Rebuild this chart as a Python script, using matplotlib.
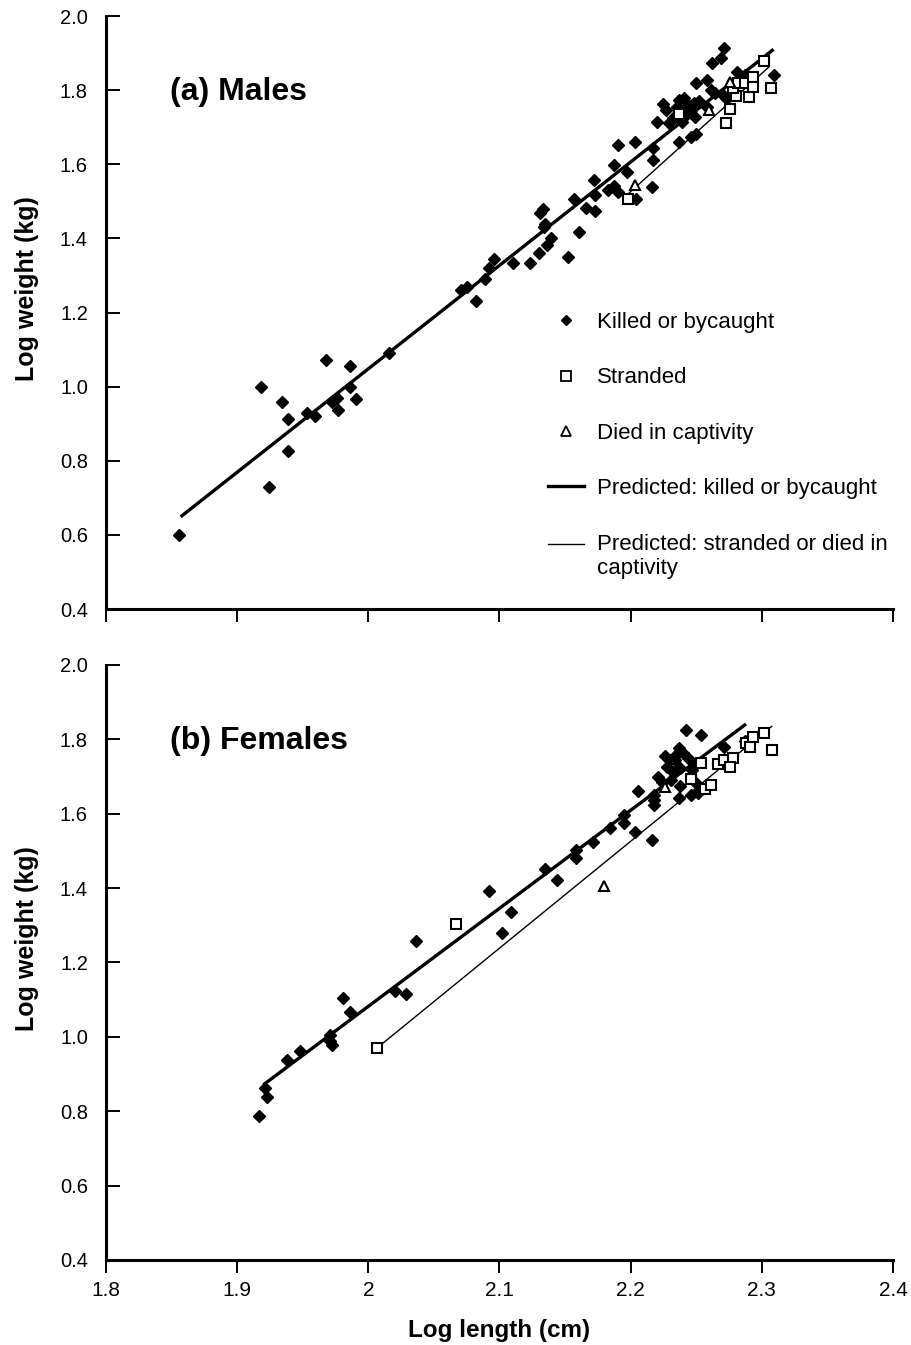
import matplotlib
matplotlib.use("Agg")
import matplotlib.pyplot as plt
from matplotlib.lines import Line2D
from matplotlib.legend_handler import HandlerLine2D
import numpy as np

plt.rcParams['font.family'] = ['Liberation Sans', 'DejaVu Sans']

# ---------------- Data: (a) Males ----------------
m_kill_x = [1.856, 1.918, 1.924, 1.934, 1.939, 1.939, 1.953, 1.959, 1.968, 1.972,
            1.976, 1.977, 1.986, 1.986, 1.991, 2.016, 2.071, 2.075, 2.082, 2.089,
            2.092, 2.096, 2.110, 2.123, 2.130, 2.136, 2.139, 2.131, 2.133, 2.134,
            2.135, 2.152, 2.161, 2.157, 2.166, 2.173, 2.173, 2.172, 2.183, 2.187,
            2.190, 2.187, 2.197, 2.190, 2.203, 2.204, 2.217, 2.217, 2.216, 2.220,
            2.225, 2.227, 2.229, 2.232, 2.237, 2.241, 2.244, 2.246, 2.239, 2.249,
            2.237, 2.246, 2.250, 2.250, 2.258, 2.262, 2.269, 2.271, 2.261, 2.264,
            2.271, 2.258, 2.273, 2.281, 2.287, 2.309, 2.252, 2.243, 2.235, 2.248]
m_kill_y = [0.600, 1.000, 0.730, 0.958, 0.912, 0.825, 0.930, 0.922, 1.071, 0.959,
            0.968, 0.937, 1.056, 1.000, 0.967, 1.090, 1.261, 1.270, 1.231, 1.290,
            1.319, 1.344, 1.333, 1.333, 1.361, 1.382, 1.400, 1.468, 1.478, 1.431,
            1.438, 1.349, 1.416, 1.505, 1.481, 1.474, 1.517, 1.558, 1.530, 1.540,
            1.526, 1.598, 1.580, 1.652, 1.659, 1.507, 1.643, 1.611, 1.539, 1.715,
            1.762, 1.746, 1.710, 1.725, 1.773, 1.778, 1.760, 1.746, 1.715, 1.728,
            1.661, 1.674, 1.682, 1.818, 1.827, 1.872, 1.886, 1.915, 1.800, 1.791,
            1.784, 1.755, 1.778, 1.850, 1.841, 1.840, 1.770, 1.735, 1.755, 1.765]

m_strand_x = [2.198, 2.237, 2.273, 2.276, 2.280, 2.278, 2.282, 2.287, 2.290, 2.293,
              2.293, 2.302, 2.307]
m_strand_y = [1.505, 1.736, 1.710, 1.749, 1.784, 1.805, 1.820, 1.820, 1.781, 1.835,
              1.808, 1.879, 1.807]

m_capt_x = [2.203, 2.260, 2.276]
m_capt_y = [1.544, 1.746, 1.823]

# Predicted lines (intercept, slope, x-start, x-end)
m_kill_fit = (-4.532, 2.79, 1.857, 2.309)
m_other_fit = (-5.492, 3.19, 2.198, 2.306)

# ---------------- Data: (b) Females ----------------
f_kill_x = [1.917, 1.923, 1.921, 1.938, 1.948, 1.971, 1.972, 1.971, 1.981, 1.986,
            2.020, 2.029, 2.036, 2.092, 2.102, 2.109, 2.135, 2.144, 2.158, 2.158,
            2.171, 2.184, 2.195, 2.195, 2.203, 2.216, 2.242, 2.254, 2.271, 2.237,
            2.226, 2.230, 2.235, 2.240, 2.244, 2.234, 2.228, 2.232, 2.238, 2.247,
            2.221, 2.224, 2.238, 2.250, 2.253, 2.246, 2.251, 2.206, 2.218, 2.218,
            2.218, 2.237, 2.287, 2.248, 2.231]
f_kill_y = [0.787, 0.839, 0.862, 0.938, 0.963, 1.005, 0.978, 0.990, 1.105, 1.067,
            1.122, 1.115, 1.259, 1.393, 1.280, 1.335, 1.451, 1.422, 1.503, 1.480,
            1.523, 1.561, 1.597, 1.574, 1.551, 1.529, 1.825, 1.812, 1.780, 1.776,
            1.755, 1.745, 1.760, 1.762, 1.749, 1.745, 1.725, 1.713, 1.722, 1.718,
            1.700, 1.686, 1.675, 1.682, 1.664, 1.650, 1.655, 1.661, 1.650, 1.637,
            1.624, 1.642, 1.795, 1.735, 1.690]

f_strand_x = [2.007, 2.067, 2.254, 2.246, 2.257, 2.261, 2.267, 2.271, 2.278, 2.276,
              2.288, 2.291, 2.293, 2.302, 2.308]
f_strand_y = [0.971, 1.303, 1.736, 1.693, 1.666, 1.677, 1.734, 1.745, 1.749, 1.725,
              1.789, 1.780, 1.807, 1.816, 1.771]

f_capt_x = [2.180, 2.226]
f_capt_y = [1.406, 1.671]

f_kill_fit = (-4.190, 2.636, 1.920, 2.288)
f_other_fit = (-4.797, 2.874, 2.007, 2.308)

x_ticks = [1.8, 1.9, 2.0, 2.1, 2.2, 2.3, 2.4]
x_tick_labels = ['1.8', '1.9', '2', '2.1', '2.2', '2.3', '2.4']
y_ticks = [0.4, 0.6, 0.8, 1.0, 1.2, 1.4, 1.6, 1.8, 2.0]

legend_labels = ['Killed or bycaught', 'Stranded', 'Died in captivity',
                 'Predicted: killed or bycaught',
                 'Predicted: stranded or died in\ncaptivity']

# ---------------- Figure ----------------
fig = plt.figure(figsize=(9.12, 13.45), dpi=100)
ax1 = fig.add_axes([0.1162, 0.5472, 0.8629, 0.4409])
ax2 = fig.add_axes([0.1162, 0.0632, 0.8629, 0.4424])

MS = 7.0


def draw_fit(ax, fit, lw):
    a, b, x0, x1 = fit
    xs = np.array([x0, x1])
    ax.plot(xs, a + b * xs, color='black', lw=lw, solid_capstyle='butt', zorder=2)


def panel(ax, kx, ky, sx, sy, cx, cy, kfit, ofit, title, show_xlabels):
    draw_fit(ax, kfit, 2.4)
    draw_fit(ax, ofit, 1.0)
    ax.plot(kx, ky, 'D', color='black', ms=MS * 0.85, mec='black', zorder=3)
    ax.plot(sx, sy, 's', mfc='white', mec='black', mew=1.5, ms=MS, zorder=4)
    ax.plot(cx, cy, '^', mfc='white', mec='black', mew=1.5, ms=MS, zorder=4)
    ax.set_xlim(1.8, 2.4)
    ax.set_ylim(0.4, 2.0)
    ax.set_yticks(y_ticks)
    ax.set_yticklabels([f'{v:.1f}' for v in y_ticks], fontsize=14.5)
    ax.set_xticks(x_ticks)
    if show_xlabels:
        ax.set_xticklabels(x_tick_labels, fontsize=15)
    else:
        ax.set_xticklabels([])
    for s in ['top', 'right']:
        ax.spines[s].set_visible(False)
    for s in ['left', 'bottom']:
        ax.spines[s].set_linewidth(2.2)
    ax.tick_params(axis='y', direction='in', length=10, width=1.4, pad=13)
    ax.tick_params(axis='x', direction='out', length=9, width=1.4, pad=6)
    ax.set_ylabel('Log weight (kg)', fontsize=18, fontweight='bold', labelpad=15, y=0.54)
    ax.text(1.849, 1.795, title, fontsize=23, fontweight='bold', va='center', ha='left')


panel(ax1, m_kill_x, m_kill_y, m_strand_x, m_strand_y, m_capt_x, m_capt_y,
      m_kill_fit, m_other_fit, '(a) Males', False)
panel(ax2, f_kill_x, f_kill_y, f_strand_x, f_strand_y, f_capt_x, f_capt_y,
      f_kill_fit, f_other_fit, '(b) Females', True)

ax2.set_xlabel('Log length (cm)', fontsize=17.5, fontweight='bold', labelpad=14)


class TopLineHandler(HandlerLine2D):
    """Place the line handle at the first text line of a two-line label."""
    def create_artists(self, legend, orig_handle, xdescent, ydescent,
                       width, height, fontsize, trans):
        return super().create_artists(legend, orig_handle, xdescent,
                                      ydescent - 1.15 * fontsize,
                                      width, height, fontsize, trans)


handles = [
    Line2D([], [], ls='none', marker='D', color='black', ms=5.5),
    Line2D([], [], ls='none', marker='s', mfc='white', mec='black', mew=1.3, ms=6.5),
    Line2D([], [], ls='none', marker='^', mfc='white', mec='black', mew=1.3, ms=6.5),
    Line2D([], [], color='black', lw=2.4),
    Line2D([], [], color='black', lw=1.0),
]
ax1.legend(handles, legend_labels, loc='upper left', bbox_to_anchor=(0.562, 0.501),
           frameon=False, fontsize=16, labelspacing=1.55, handlelength=1.6,
           handletextpad=0.6, borderpad=0, borderaxespad=0,
           handler_map={handles[4]: TopLineHandler()})

fig.savefig('out.png', dpi=100)
